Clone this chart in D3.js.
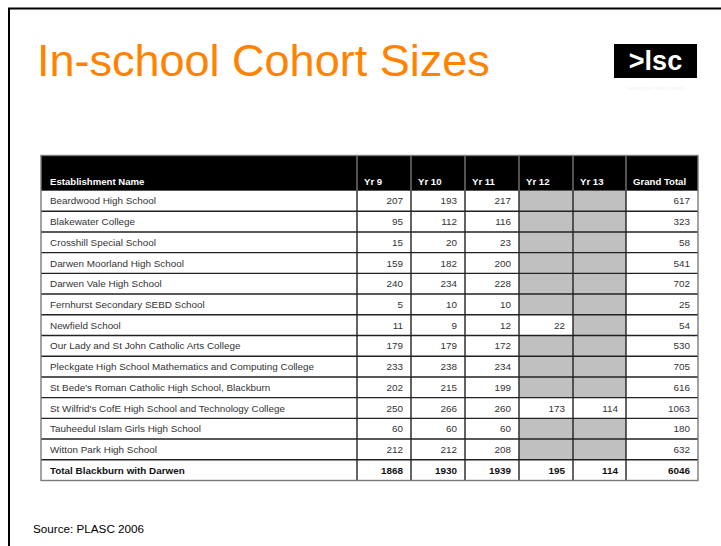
<!DOCTYPE html>
<html>
<head>
<meta charset="utf-8">
<script src="https://cdn.jsdelivr.net/npm/d3@7"></script>
<style>
  html, body { margin: 0; padding: 0; background: #fff; }
  svg { display: block; font-family: "Liberation Sans", Arial, sans-serif; }
</style>
</head>
<body>
<svg id="chart"></svg>
<script>
// table data
var columns = ["Establishment Name", "Yr 9", "Yr 10", "Yr 11", "Yr 12", "Yr 13", "Grand Total"];
var schools = [
    "Beardwood High School",
    "Blakewater College",
    "Crosshill Special School",
    "Darwen Moorland High School",
    "Darwen Vale High School",
    "Fernhurst Secondary SEBD School",
    "Newfield School",
    "Our Lady and St John Catholic Arts College",
    "Pleckgate High School Mathematics and Computing College",
    "St Bede's Roman Catholic High School, Blackburn",
    "St Wilfrid's CofE High School and Technology College",
    "Tauheedul Islam Girls High School",
    "Witton Park High School"
];
var yr9 = [207, 95, 15, 159, 240, 5, 11, 179, 233, 202, 250, 60, 212];
var yr10 = [193, 112, 20, 182, 234, 10, 9, 179, 238, 215, 266, 60, 212];
var yr11 = [217, 116, 23, 200, 228, 10, 12, 172, 234, 199, 260, 60, 208];
var yr12 = [null, null, null, null, null, null, 22, null, null, null, 173, null, null];
var yr13 = [null, null, null, null, null, null, null, null, null, null, 114, null, null];
var grandTotal = [617, 323, 58, 541, 702, 25, 54, 530, 705, 616, 1063, 180, 632];
var totalLabel = "Total Blackburn with Darwen";
var totals = [1868, 1930, 1939, 195, 114, 6046];

var width = 721, height = 546;
var svg = d3.select("#chart").attr("width", width).attr("height", height);

// slide frame (cropped at right/bottom)
svg.append("path")
    .attr("d", "M9,560 V8.5 H740")
    .attr("fill", "none")
    .attr("stroke", "#000")
    .attr("stroke-width", 2);

// title
svg.append("text")
    .attr("x", 37)
    .attr("y", 76)
    .attr("font-size", 45)
    .attr("fill", "#ff8200")
    .text("In-school Cohort Sizes");

// logo
svg.append("rect")
    .attr("x", 614).attr("y", 44)
    .attr("width", 83).attr("height", 34)
    .attr("fill", "#000");
svg.append("text")
    .attr("x", 655.5).attr("y", 70)
    .attr("text-anchor", "middle")
    .attr("font-size", 27)
    .attr("font-weight", "bold")
    .attr("fill", "#fff")
    .text(">lsc");
svg.append("text")
    .attr("x", 655.5).attr("y", 90)
    .attr("text-anchor", "middle")
    .attr("font-size", 5)
    .attr("fill", "#f2f2f2")
    .text("learning and skills council");

// build rows
var rows = schools.map(function(s, i) {
    return { name: s, values: [yr9[i], yr10[i], yr11[i], yr12[i], yr13[i], grandTotal[i]], bold: false };
});
rows.push({ name: totalLabel, values: totals, bold: true });

// column edges
var colEdges = [41, 357, 411, 465, 519, 573, 626, 698];
var x = d3.scaleOrdinal().domain(columns).range(colEdges.slice(0, 7));
var xEnd = d3.scaleOrdinal().domain(columns).range(colEdges.slice(1));

var headerTop = 155.5, headerBottom = 190.5, tableBottom = 480.5;
var y = d3.scaleBand()
    .domain(d3.range(rows.length))
    .range([headerBottom, tableBottom]);

var g = svg.append("g");

// header background
g.append("rect")
    .attr("x", colEdges[0]).attr("y", headerTop)
    .attr("width", colEdges[7] - colEdges[0])
    .attr("height", headerBottom - headerTop)
    .attr("fill", "#000");

// header labels
g.selectAll("text.head")
    .data(columns)
    .enter().append("text")
    .attr("class", "head")
    .attr("x", function(d) { return x(d) + (d === columns[0] ? 9 : 7); })
    .attr("y", 184.5)
    .attr("font-size", 9.6)
    .attr("font-weight", "bold")
    .attr("fill", "#fff")
    .text(function(d) { return d; });

// grey cells for missing values
rows.forEach(function(r, i) {
    r.values.forEach(function(v, j) {
        if (v === null) {
            var c = columns[j + 1];
            g.append("rect")
                .attr("x", x(c)).attr("y", y(i))
                .attr("width", xEnd(c) - x(c))
                .attr("height", y.bandwidth())
                .attr("fill", "#c0c0c0");
        }
    });
});

// horizontal row lines
g.selectAll("line.row")
    .data(d3.range(1, rows.length))
    .enter().append("line")
    .attr("x1", colEdges[0]).attr("x2", colEdges[7])
    .attr("y1", function(d) { return y(d); })
    .attr("y2", function(d) { return y(d); })
    .attr("stroke", "#222")
    .attr("stroke-width", 1.4);

// vertical lines in body
g.selectAll("line.col")
    .data(colEdges.slice(1, 7))
    .enter().append("line")
    .attr("x1", function(d) { return d; }).attr("x2", function(d) { return d; })
    .attr("y1", headerBottom).attr("y2", tableBottom)
    .attr("stroke", "#222")
    .attr("stroke-width", 1.4);

// vertical separators in header
g.selectAll("line.hcol")
    .data(colEdges.slice(1, 7))
    .enter().append("line")
    .attr("x1", function(d) { return d; }).attr("x2", function(d) { return d; })
    .attr("y1", headerTop).attr("y2", headerBottom)
    .attr("stroke", "#8a8a8a")
    .attr("stroke-width", 1.2);

// header bottom line
g.append("line")
    .attr("x1", colEdges[0]).attr("x2", colEdges[7])
    .attr("y1", headerBottom).attr("y2", headerBottom)
    .attr("stroke", "#555").attr("stroke-width", 1.2);

// outer border
g.append("rect")
    .attr("x", colEdges[0]).attr("y", headerTop)
    .attr("width", colEdges[7] - colEdges[0])
    .attr("height", tableBottom - headerTop)
    .attr("fill", "none")
    .attr("stroke", "#7a7a7a")
    .attr("stroke-width", 1.4);

// row names
g.selectAll("text.name")
    .data(rows)
    .enter().append("text")
    .attr("class", "name")
    .attr("x", colEdges[0] + 9)
    .attr("y", function(d, i) { return y(i) + y.bandwidth() / 2 + 3.6; })
    .attr("font-size", 9.9)
    .attr("font-weight", function(d) { return d.bold ? "bold" : "normal"; })
    .attr("fill", function(d) { return d.bold ? "#111" : "#333"; })
    .text(function(d) { return d.name; });

// values
rows.forEach(function(r, i) {
    r.values.forEach(function(v, j) {
        if (v === null) return;
        var c = columns[j + 1];
        g.append("text")
            .attr("x", xEnd(c) - 8)
            .attr("y", y(i) + y.bandwidth() / 2 + 3.6)
            .attr("text-anchor", "end")
            .attr("font-size", 9.9)
            .attr("font-weight", r.bold ? "bold" : "normal")
            .attr("fill", r.bold ? "#111" : "#333")
            .text(v);
    });
});

// source
svg.append("text")
    .attr("x", 33).attr("y", 533)
    .attr("font-size", 11.7)
    .attr("fill", "#000")
    .text("Source: PLASC 2006");
</script>
</body>
</html>
